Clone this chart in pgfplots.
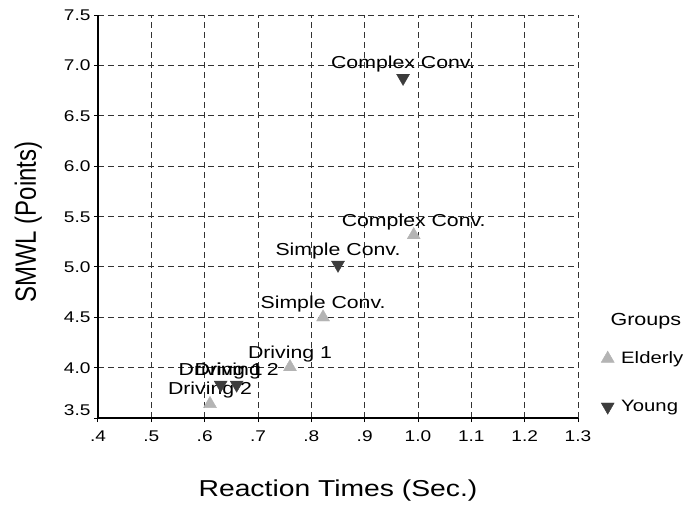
\documentclass[border=0pt]{standalone}
\usepackage{fontspec}
\setmainfont{Liberation Sans}[FakeStretch=1.23]
\newfontfamily\plainsans{Liberation Sans}
\usepackage{graphicx}
\usepackage{pgfplots}
\usepackage{pgfplotstable}
\pgfplotsset{compat=1.18}
\definecolor{elderly}{HTML}{B4B4B4}
\definecolor{young}{HTML}{3C3C3C}
\pgfplotstableread{
x y label
0.992 5.316 {Complex Conv.}
0.822 4.50 {Simple Conv.}
0.760 4.006 {Driving 1}
0.610 3.64 {Driving 2}
}\elderlydata
\pgfplotstableread{
x y label
0.972 6.875 {Complex Conv.}
0.850 5.02 {Simple Conv.}
0.630 3.83 {Driving 1}
0.660 3.83 {Driving 2}
}\youngdata
\begin{document}
\begin{tikzpicture}[x=1pt,y=1pt]
\path[use as bounding box] (-98,-86) rectangle (594,418);
\begin{axis}[
  at={(0,0)}, anchor=south west,
  scale only axis, width=480pt, height=403pt,
  xmin=0.4, xmax=1.3, ymin=3.5, ymax=7.5,
  axis lines*=left,
  axis line style={line width=1.3pt, black},
  tick align=outside, major tick length=4pt,
  tick style={black, line width=1pt},
  xtick={0.4,0.5,0.6,0.7,0.8,0.9,1.0,1.1,1.2,1.3},
  xticklabels={.4,.5,.6,.7,.8,.9,1.0,1.1,1.2,1.3},
  ytick={3.5,4.0,4.5,5.0,5.5,6.0,6.5,7.0,7.5},
  yticklabels={\raisebox{8pt}{3.5},4.0,4.5,5.0,5.5,6.0,6.5,7.0,7.5},
  ticklabel style={font=\fontsize{15.5}{15.5}\selectfont},
  xticklabel style={anchor=base, yshift=-19.5pt},
  yticklabel style={anchor=base east, yshift=-5.5pt},
  grid=major,
  major grid style={dash pattern=on 6pt off 4pt, color=black!80, line width=0.9pt},
  xlabel={Reaction Times (Sec.)},
  ylabel={\scalebox{1}[1.22]{\plainsans\fontsize{24}{24}\selectfont SMWL (Points)}},
  xlabel style={at={(axis description cs:0.5,0)}, anchor=base, yshift=-78pt, font=\fontsize{23}{23}\selectfont},
  ylabel style={at={(axis description cs:-0.1292,0.486)}, anchor=base},
  clip=false,
  legend style={at={(1.0417,0.088)}, anchor=west, draw=none, fill=none,
    font=\fontsize{16.5}{16.5}\selectfont, row sep=33pt, column sep=6pt,
    nodes={inner sep=1pt}},
  legend cell align=left,
  legend image code/.code={\draw[#1] plot coordinates {(0pt,0pt)};},
  nodes near coords style={anchor=base, yshift=9pt, text=black, font=\fontsize{17.3}{17.3}\selectfont},
]
\addplot[only marks, mark=triangle*, mark size=7.5pt, color=elderly,
  nodes near coords, point meta=explicit symbolic]
  table[x=x, y=y, meta=label] {\elderlydata};
\addlegendentry{Elderly}
\addplot[only marks, mark=triangle*, mark size=7.5pt, color=young,
  mark options={rotate=180},
  nodes near coords, point meta=explicit symbolic]
  table[x=x, y=y, meta=label] {\youngdata};
\addlegendentry{Young}
\end{axis}
\node[anchor=base west, font=\fontsize{17.5}{17.5}\selectfont] at (509,93) {Groups};
\end{tikzpicture}
\end{document}
